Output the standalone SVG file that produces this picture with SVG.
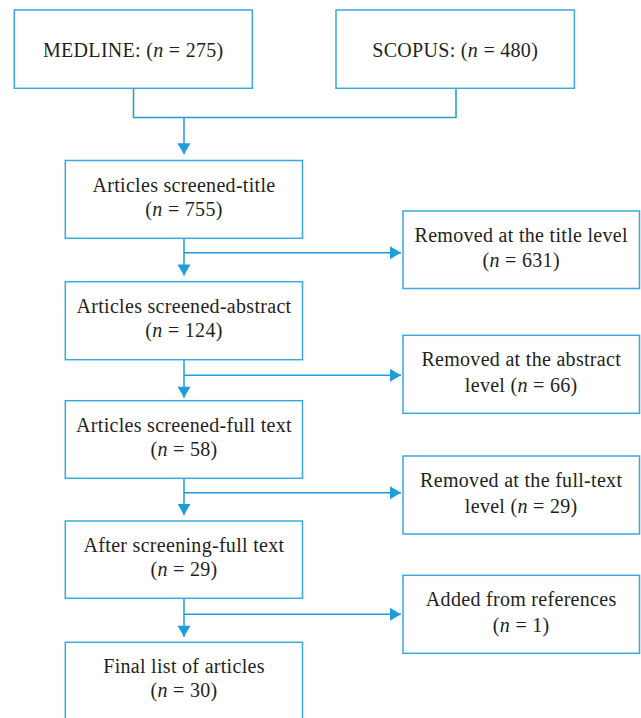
<svg xmlns="http://www.w3.org/2000/svg" width="641" height="718" viewBox="0 0 641 718">
  <style>
    .box { fill: #ffffff; stroke: #3aa9de; stroke-width: 1.5; }
    .t { font-family: "Liberation Serif", "Times New Roman", serif; font-size: 20px; fill: #231f20; text-anchor: middle; letter-spacing: 0.3px; }
    .i { font-style: italic; }
    .c { fill: none; stroke: #1e9dd9; stroke-width: 1.5; }
  </style>
  <defs>
    <marker id="ah" markerUnits="userSpaceOnUse" markerWidth="12" markerHeight="13" viewBox="0 0 11 13" refX="11" refY="6.5" orient="auto">
      <path d="M0,0 L11,6.5 L0,13 Z" fill="#1e9dd9"/>
    </marker>
  </defs>
  <rect width="641" height="718" fill="#ffffff"/>

  <g id="connectors">
    <path class="c" d="M133.5,88.3 V117.5 H456 V88.3"/>
    <path class="c" d="M184,117.5 V154.3" marker-end="url(#ah)"/>
    <path class="c" d="M184,238.3 V275.5" marker-end="url(#ah)"/>
    <path class="c" d="M184,360 V397.7" marker-end="url(#ah)"/>
    <path class="c" d="M184,478.3 V515" marker-end="url(#ah)"/>
    <path class="c" d="M184,598.3 V636.7" marker-end="url(#ah)"/>
    <path class="c" d="M184,252.7 H401" marker-end="url(#ah)"/>
    <path class="c" d="M184,375.3 H401" marker-end="url(#ah)"/>
    <path class="c" d="M184,492.7 H401" marker-end="url(#ah)"/>
    <path class="c" d="M184,614.3 H401" marker-end="url(#ah)"/>
  </g>

  <g id="medline">
    <rect class="box" x="14.3" y="10" width="238" height="78.3"/>
    <text class="t" x="133.3" y="56.7">MEDLINE: (<tspan class="i">n</tspan> = 275)</text>
  </g>
  <g id="scopus">
    <rect class="box" x="336" y="10" width="238.4" height="78.3"/>
    <text class="t" x="455.2" y="56.7">SCOPUS: (<tspan class="i">n</tspan> = 480)</text>
  </g>

  <g id="screened-title">
    <rect class="box" x="65.3" y="160.5" width="237.2" height="77.8"/>
    <text class="t" x="184" y="191.5">Articles screened-title</text>
    <text class="t" x="184" y="215.5">(<tspan class="i">n</tspan> = 755)</text>
  </g>
  <g id="removed-title">
    <rect class="box" x="403" y="211" width="236.5" height="77.5"/>
    <text class="t" x="521.2" y="241.5">Removed at the title level</text>
    <text class="t" x="521.2" y="267">(<tspan class="i">n</tspan> = 631)</text>
  </g>

  <g id="screened-abstract">
    <rect class="box" x="65.3" y="281.7" width="237.2" height="78"/>
    <text class="t" x="184" y="312.7">Articles screened-abstract</text>
    <text class="t" x="184" y="336.7">(<tspan class="i">n</tspan> = 124)</text>
  </g>
  <g id="removed-abstract">
    <rect class="box" x="403" y="335.3" width="236.5" height="78"/>
    <text class="t" x="521.2" y="366">Removed at the abstract</text>
    <text class="t" x="521.2" y="392">level (<tspan class="i">n</tspan> = 66)</text>
  </g>

  <g id="screened-fulltext">
    <rect class="box" x="65.3" y="400.7" width="237.2" height="77.6"/>
    <text class="t" x="184" y="431.5">Articles screened-full text</text>
    <text class="t" x="184" y="455.5">(<tspan class="i">n</tspan> = 58)</text>
  </g>
  <g id="removed-fulltext">
    <rect class="box" x="403" y="456" width="236.5" height="78"/>
    <text class="t" x="521.2" y="487">Removed at the full-text</text>
    <text class="t" x="521.2" y="513">level (<tspan class="i">n</tspan> = 29)</text>
  </g>

  <g id="after-screening">
    <rect class="box" x="65.3" y="521" width="237.2" height="77.3"/>
    <text class="t" x="184" y="551.7">After screening-full text</text>
    <text class="t" x="184" y="575.7">(<tspan class="i">n</tspan> = 29)</text>
  </g>
  <g id="added-references">
    <rect class="box" x="403" y="575.3" width="236.5" height="78"/>
    <text class="t" x="521.2" y="606">Added from references</text>
    <text class="t" x="521.2" y="632">(<tspan class="i">n</tspan> = 1)</text>
  </g>

  <g id="final-list">
    <rect class="box" x="65.3" y="642.3" width="237.2" height="90"/>
    <text class="t" x="184" y="672.7">Final list of articles</text>
    <text class="t" x="184" y="697">(<tspan class="i">n</tspan> = 30)</text>
  </g>
</svg>
